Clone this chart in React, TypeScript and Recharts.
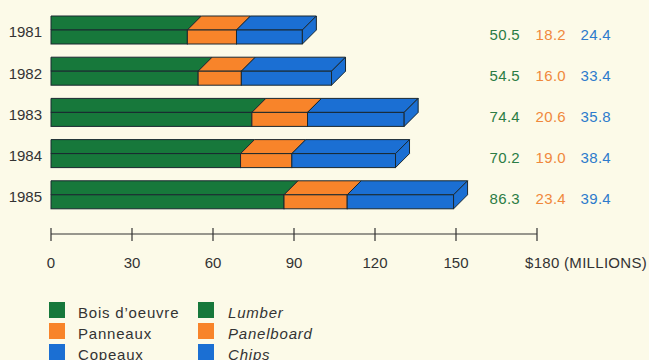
import React from 'react';
import { BarChart, Bar, XAxis, YAxis, LabelList } from 'recharts';

// Export values by product, millions of dollars
const YEARS = ['1981', '1982', '1983', '1984', '1985'];
const LUMBER = [50.5, 54.5, 74.4, 70.2, 86.3];
const PANELBOARD = [18.2, 16.0, 20.6, 19.0, 23.4];
const CHIPS = [24.4, 33.4, 35.8, 38.4, 39.4];

const X_TICKS = [0, 30, 60, 90, 120, 150, 180];
const X_MAX_LABEL = '$180 (MILLIONS)';

const LABELS_FR = ['Bois d\u2019oeuvre', 'Panneaux', 'Copeaux'];
const LABELS_EN = ['Lumber', 'Panelboard', 'Chips'];

const GREEN = '#17783b';
const ORANGE = '#f8842a';
const BLUE = '#1b6fd3';
const SERIES_COLORS = [GREEN, ORANGE, BLUE];
const TEXT_COLORS = ['#2b7c45', '#f0883c', '#2d7bcc'];
const EDGE = '#1a2830';
const INK = '#333333';
const BG = '#fcfae8';
const FONT = '"Liberation Sans", Arial, Helvetica, sans-serif';

const data = YEARS.map((year, i) => ({
  year,
  lumber: LUMBER[i],
  panel: PANELBOARD[i],
  chips: CHIPS[i],
}));

const DEPTH = 14;

type Part = 'first' | 'middle' | 'last';

// One segment of a stacked box: front face, slanted top, and end face on the last one
function BoxSegment(props: any) {
  const { x, y, width, height, fill, part } = props as {
    x: number; y: number; width: number; height: number; fill: string; part: Part;
  };
  if (width == null || width <= 0) return null;
  const fy = y + DEPTH;
  const fh = height - DEPTH;
  const topLeft = part === 'first' ? `${x},${y}` : `${x + DEPTH},${y}`;
  const top = `${x},${fy} ${topLeft} ${x + width + DEPTH},${y} ${x + width},${fy}`;
  return (
    <g>
      <polygon points={top} fill={fill} stroke={EDGE} strokeWidth={1} strokeLinejoin="round" />
      <rect x={x} y={fy} width={width} height={fh} fill={fill} stroke={EDGE} strokeWidth={1} />
      {part === 'last' && (
        <polygon
          points={`${x + width},${fy} ${x + width + DEPTH},${y} ${x + width + DEPTH},${y + fh} ${x + width},${y + height}`}
          fill={fill}
          stroke={EDGE}
          strokeWidth={1}
          strokeLinejoin="round"
        />
      )}
    </g>
  );
}

const VALUE_COLUMNS = [520, 566, 611];

function makeValueLabel(col: number) {
  return (props: any) => {
    const vb = props.viewBox || props;
    const y = Number(vb.y);
    const v = Number(props.value);
    return (
      <text
        x={VALUE_COLUMNS[col]}
        y={y + 23.5}
        textAnchor="end"
        fill={TEXT_COLORS[col]}
        fontFamily={FONT}
        fontSize={15}
        letterSpacing={0.3}
      >
        {v.toFixed(1)}
      </text>
    );
  };
}

function YearTick(props: any) {
  const { y, payload } = props;
  return (
    <text x={42} y={y + 7.7} textAnchor="end" fill={INK} fontFamily={FONT} fontSize={15}>
      {payload.value}
    </text>
  );
}

function ValueTick(props: any) {
  const { x, y, payload } = props;
  const isLast = payload.value === X_TICKS[X_TICKS.length - 1];
  return (
    <g>
      <line x1={x} x2={x} y1={y - 6} y2={y + 7} stroke={INK} strokeWidth={1.2} />
      <text
        x={isLast ? x - 12 : x}
        y={y + 34}
        textAnchor={isLast ? 'start' : 'middle'}
        fill={INK}
        fontFamily={FONT}
        fontSize={15}
        letterSpacing={isLast ? 0.3 : 0}
      >
        {isLast ? X_MAX_LABEL : payload.value}
      </text>
    </g>
  );
}

function LegendBlock() {
  const rows = [0, 1, 2];
  const columns = [
    { sx: 49, tx: 78, labels: LABELS_FR, italic: false },
    { sx: 198, tx: 228, labels: LABELS_EN, italic: true },
  ];
  return (
    <svg width={649} height={360} style={{ position: 'absolute', left: 0, top: 0, pointerEvents: 'none' }}>
      {columns.map((c, ci) =>
        rows.map((r) => {
          const base = 317.5 + r * 21;
          return (
            <g key={`${ci}-${r}`}>
              <rect x={c.sx} y={base - 15.5} width={16} height={16} fill={SERIES_COLORS[r]} />
              <text
                x={c.tx}
                y={base}
                fill={INK}
                fontFamily={FONT}
                fontSize={15}
                fontStyle={c.italic ? 'italic' : 'normal'}
                letterSpacing={0.8}
              >
                {c.labels[r]}
              </text>
            </g>
          );
        })
      )}
    </svg>
  );
}

export default function App() {
  return (
    <div style={{ position: 'absolute', left: 0, top: 0, width: 649, height: 360, background: BG }}>
      <BarChart
        layout="vertical"
        width={649}
        height={360}
        data={data}
        margin={{ top: 9, right: 112, bottom: 0, left: 0 }}
        barSize={28}
      >
        <XAxis
          type="number"
          domain={[0, 180]}
          ticks={X_TICKS}
          interval={0}
          axisLine={{ stroke: INK, strokeWidth: 1.2 }}
          tickLine={false}
          tickSize={0}
          tickMargin={0}
          tick={<ValueTick />}
          height={126}
        />
        <YAxis
          type="category"
          dataKey="year"
          width={51}
          axisLine={false}
          tickLine={false}
          tick={<YearTick />}
          padding={{ top: 0, bottom: 19 }}
        />
        <Bar dataKey="lumber" stackId="a" fill={GREEN} isAnimationActive={false}
          shape={(p: any) => <BoxSegment {...p} part="first" />}>
          <LabelList dataKey="lumber" content={makeValueLabel(0)} />
        </Bar>
        <Bar dataKey="panel" stackId="a" fill={ORANGE} isAnimationActive={false}
          shape={(p: any) => <BoxSegment {...p} part="middle" />}>
          <LabelList dataKey="panel" content={makeValueLabel(1)} />
        </Bar>
        <Bar dataKey="chips" stackId="a" fill={BLUE} isAnimationActive={false}
          shape={(p: any) => <BoxSegment {...p} part="last" />}>
          <LabelList dataKey="chips" content={makeValueLabel(2)} />
        </Bar>
      </BarChart>
      <LegendBlock />
    </div>
  );
}
